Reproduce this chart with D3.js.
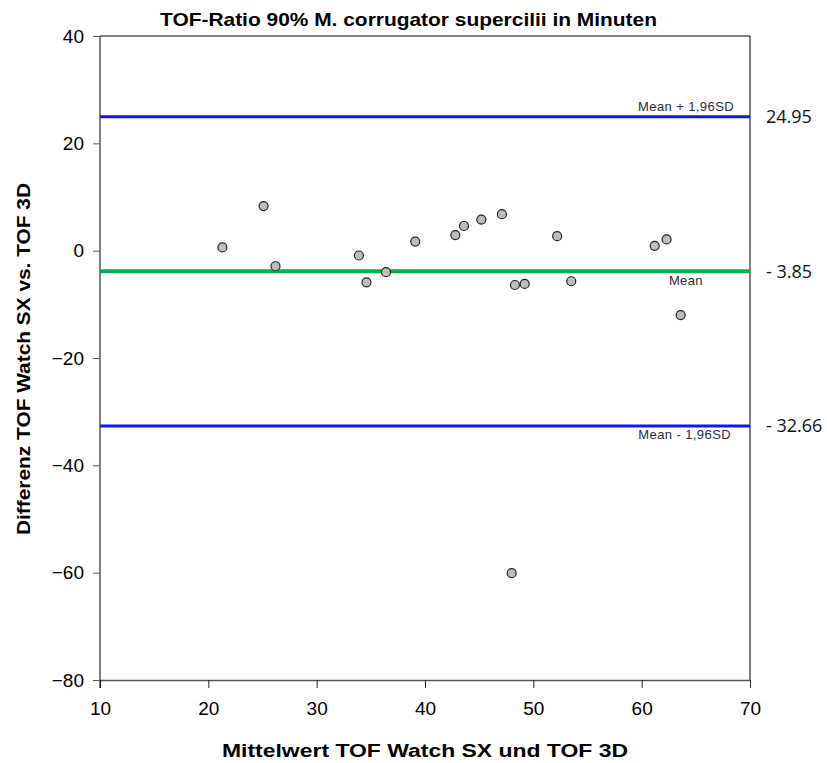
<!DOCTYPE html>
<html>
<head>
<meta charset="utf-8">
<script src="https://cdn.jsdelivr.net/npm/d3@7"></script>
<style>
  body { margin: 0; background: #fff; }
  text { font-family: "Liberation Sans", Arial, sans-serif; }
</style>
</head>
<body>
<div id="chart"></div>
<script>
// mean of both devices (x) and difference (y)
const meanValues = [21.3, 25.1, 26.2, 33.9, 34.6, 36.4, 39.1, 42.8, 43.6, 45.2, 47.1, 48.3, 49.2, 52.2, 53.5, 61.2, 62.3, 63.6, 48.0];
const diffValues = [0.6, 8.3, -2.9, -0.9, -5.9, -4.0, 1.7, 2.9, 4.6, 5.8, 6.8, -6.4, -6.2, 2.7, -5.7, 0.9, 2.1, -12.0, -60.1];

const meanDiff = -3.85;
const upperLoA = 24.95;
const lowerLoA = -32.66;

const xTicks = [10, 20, 30, 40, 50, 60, 70];
const yTicks = [40, 20, 0, -20, -40, -60, -80];

const width = 827, height = 763;
const margin = { top: 36, right: 77, bottom: 83, left: 100 };

const svg = d3.select("#chart").append("svg")
  .attr("width", width)
  .attr("height", height);

const x = d3.scaleLinear().domain([10, 70]).range([margin.left, width - margin.right]);
const y = d3.scaleLinear().domain([-80, 40]).range([height - margin.bottom, margin.top]);

// frame (top + right)
svg.append("path")
  .attr("d", `M${x(10)},${y(40)}H${x(70)}V${y(-80)}`)
  .attr("fill", "none").attr("stroke", "#000").attr("stroke-width", 1);

// x axis
const xAxis = svg.append("g")
  .attr("transform", `translate(0,${y(-80)})`)
  .call(d3.axisBottom(x).tickValues(xTicks).tickSize(8).tickPadding(14).tickSizeOuter(0));
xAxis.select(".domain").attr("stroke", "#555").attr("stroke-width", 1.5);
xAxis.selectAll(".tick line").attr("stroke", "#222");
xAxis.selectAll("text").attr("font-size", 19).attr("fill", "#000")
  .style("font-family", "'Liberation Sans', Arial, sans-serif");

// y axis
const yAxis = svg.append("g")
  .attr("transform", `translate(${x(10)},0)`)
  .call(d3.axisLeft(y).tickValues(yTicks).tickSize(7).tickPadding(9).tickSizeOuter(0));
yAxis.select(".domain").attr("stroke", "#000")
  .attr("d", `M0,${y(40)}V${y(-80) + 8}`);
yAxis.selectAll(".tick line").attr("stroke", "#555");
yAxis.selectAll("text").attr("font-size", 19).attr("fill", "#000")
  .style("font-family", "'Liberation Sans', Arial, sans-serif");

// reference lines
const refLines = [
  { v: upperLoA, color: "#1515e8", w: 3 },
  { v: meanDiff, color: "#00b050", w: 4 },
  { v: lowerLoA, color: "#1515e8", w: 3 }
];
svg.append("g").selectAll("line")
  .data(refLines)
  .join("line")
  .attr("x1", x(10)).attr("x2", x(70))
  .attr("y1", d => y(d.v)).attr("y2", d => y(d.v))
  .attr("stroke", d => d.color)
  .attr("stroke-width", d => d.w);

// small line captions
const captions = [
  { t: "Mean + 1,96SD", v: upperLoA, dx: 734, dy: -6 },
  { t: "Mean", v: meanDiff, dx: 703, dy: 14 },
  { t: "Mean - 1,96SD", v: lowerLoA, dx: 731, dy: 13 }
];
svg.append("g").selectAll("text")
  .data(captions)
  .join("text")
  .attr("x", d => d.dx)
  .attr("y", d => y(d.v) + d.dy)
  .attr("text-anchor", "end")
  .attr("font-size", 13)
  .attr("letter-spacing", 0.4)
  .attr("fill", "#2a2a40")
  .text(d => d.t);

// values on the right
const rightLabels = [
  { t: "24.95", v: upperLoA },
  { t: "- 3.85", v: meanDiff },
  { t: "- 32.66", v: lowerLoA }
];
svg.append("g").selectAll("text")
  .data(rightLabels)
  .join("text")
  .attr("x", 766)
  .attr("y", d => y(d.v))
  .attr("dy", "0.35em")
  .attr("font-size", 18)
  .style("font-family", "'Open Sans', sans-serif")
  .attr("fill", "#111")
  .text(d => d.t);

// points
svg.append("g").selectAll("circle")
  .data(meanValues.map((m, i) => ({ m, d: diffValues[i] })))
  .join("circle")
  .attr("cx", d => x(d.m))
  .attr("cy", d => y(d.d))
  .attr("r", 4.5)
  .attr("fill", "#bdbdbd")
  .attr("stroke", "#222")
  .attr("stroke-width", 1.2);

// title
svg.append("text")
  .attr("x", 160).attr("y", 26)
  .attr("font-size", 19).attr("font-weight", "bold")
  .attr("textLength", 497).attr("lengthAdjust", "spacingAndGlyphs")
  .text("TOF-Ratio 90% M. corrugator supercilii in Minuten");

// axis titles
svg.append("text")
  .attr("x", 222).attr("y", 757)
  .attr("font-size", 19).attr("font-weight", "bold")
  .attr("textLength", 406).attr("lengthAdjust", "spacingAndGlyphs")
  .text("Mittelwert TOF Watch SX und TOF 3D");

svg.append("text")
  .attr("transform", "translate(30,535) rotate(-90)")
  .attr("font-size", 19).attr("font-weight", "bold")
  .attr("textLength", 352).attr("lengthAdjust", "spacingAndGlyphs")
  .text("Differenz TOF Watch SX vs. TOF 3D");
</script>
</body>
</html>
